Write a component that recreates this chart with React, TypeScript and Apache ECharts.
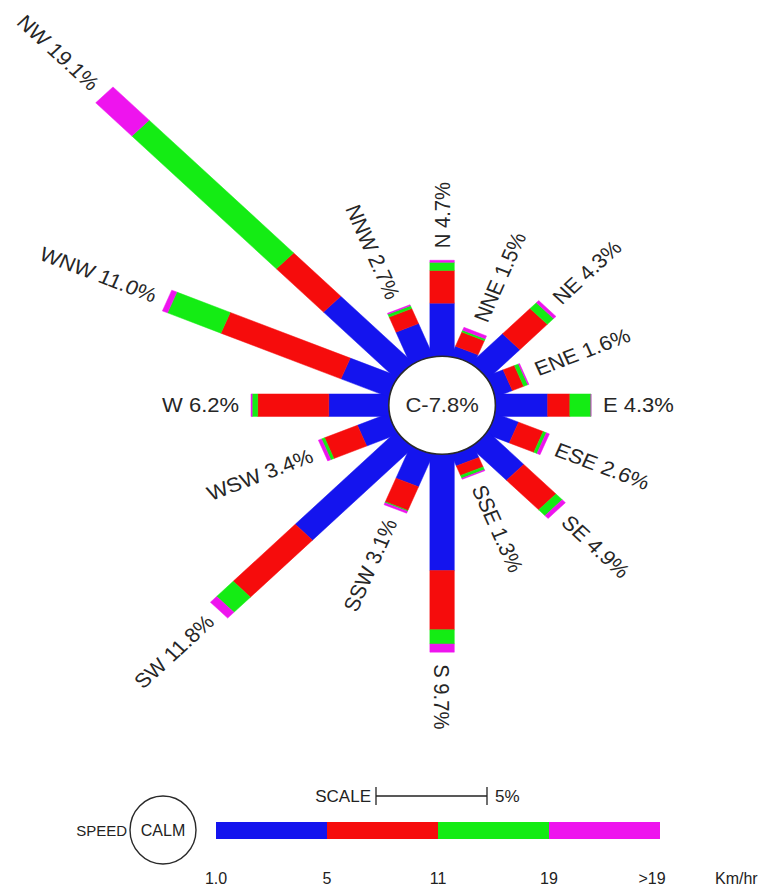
import React, { useEffect, useRef } from "react";
import * as echarts from "echarts";

// ---- data (percent of time) ----
const directions = ["N", "NNE", "NE", "ENE", "E", "ESE", "SE", "SSE", "S", "SSW", "SW", "WSW", "W", "WNW", "NW", "NNW"];
const totals = [4.7, 1.5, 4.3, 1.6, 4.3, 2.6, 4.9, 1.3, 9.7, 3.1, 11.8, 3.4, 6.2, 11.0, 19.1, 2.7];
const speed1to5 = [2.6, 0.5, 2.0, 0.8, 2.35, 1.1, 2.25, 0.6, 5.7, 1.7, 6.4, 1.5, 2.7, 2.3, 4.6, 1.7];
const speed5to11 = [1.6, 0.75, 1.75, 0.55, 1.0, 1.2, 2.05, 0.5, 2.9, 1.25, 3.95, 1.6, 3.2, 5.85, 3.0, 0.8];
const speed11to19 = [0.4, 0.1, 0.4, 0.2, 0.95, 0.15, 0.4, 0.15, 0.7, 0.05, 1.05, 0.15, 0.25, 2.6, 9.2, 0.15];
const speedAbove19 = [0.1, 0.15, 0.15, 0.05, 0, 0.15, 0.2, 0.05, 0.4, 0.1, 0.4, 0.15, 0.05, 0.25, 2.3, 0.05];
const calmPct = 7.8;
const speedTicks = ["1.0", "5", "11", "19", ">19"];
const speedUnit = "Km/hr";
const scalePct = 5;

const COLORS = ["#1414ee", "#f60c0c", "#14ec14", "#ee14ee"];
const RING = 2.4; // calm circle radius in percent units
const HALF_W = 0.55;
const SQUASH = 0.92;
const FONT = "'Liberation Sans', Arial, Helvetica, sans-serif";

export default function App() {
  const ref = useRef<HTMLDivElement>(null);
  useEffect(() => {
    if (!ref.current) return;
    const chart = echarts.init(ref.current, undefined, { renderer: "svg" });
    const classes = [speed1to5, speed5to11, speed11to19, speedAbove19];
    const barData: number[][] = [];
    directions.forEach((_, d) => {
      let cum = 0;
      classes.forEach((arr, c) => {
        const s = cum;
        cum += arr[d];
        barData.push([d, s, cum, c]);
      });
    });
    const labelData = directions.map((_, d) => [d, totals[d]]);

    const option: any = {
      animation: false,
      backgroundColor: "#ffffff",
      grid: { left: 0, right: 0, top: 0, bottom: 0 },
      xAxis: { type: "value", min: -19.9, max: 14.4, show: false },
      yAxis: { type: "value", min: -23.7, max: 19.85, show: false },
      series: [
        {
          type: "custom",
          coordinateSystem: "cartesian2d",
          clip: false,
          z: 2,
          data: barData,
          renderItem: (params: any, api: any) => {
            const d = api.value(0);
            const s = api.value(1);
            const e = api.value(2);
            const c = api.value(3);
            const th = (d * Math.PI) / 8;
            const ux = Math.sin(th), uy = Math.cos(th);
            const px = Math.cos(th), py = -Math.sin(th);
            const r1 = c === 0 ? 0 : RING + s;
            const r2 = RING + e;
            const pts = [
              [r1 * ux + HALF_W * px, r1 * uy + HALF_W * py],
              [r2 * ux + HALF_W * px, r2 * uy + HALF_W * py],
              [r2 * ux - HALF_W * px, r2 * uy - HALF_W * py],
              [r1 * ux - HALF_W * px, r1 * uy - HALF_W * py],
            ].map((p) => api.coord(p));
            return {
              type: "polygon",
              shape: { points: pts },
              style: { fill: COLORS[c], stroke: COLORS[c], lineWidth: 0.5 },
            };
          },
        },
        {
          type: "custom",
          coordinateSystem: "cartesian2d",
          clip: false,
          z: 3,
          data: [[0, 0, calmPct]],
          renderItem: (params: any, api: any) => {
            const c = api.coord([0, 0]);
            const rx = api.size([RING, 0])[0];
            const ry = api.size([0, RING])[1];
            return {
              type: "group",
              children: [
                {
                  type: "ellipse",
                  shape: { cx: c[0], cy: c[1], rx, ry },
                  style: { fill: "#ffffff", stroke: "#2a2a2a", lineWidth: 1.6 },
                },
                {
                  type: "group",
                  x: c[0],
                  y: c[1],
                  scaleY: SQUASH,
                  children: [
                    {
                      type: "text",
                      style: {
                        text: "C-" + api.value(2).toFixed(1) + "%",
                        x: 0,
                        y: 0,
                        fontSize: 22,
                        fontFamily: FONT,
                        fill: "#2a2a2a",
                        align: "center",
                        verticalAlign: "middle",
                      },
                    },
                  ],
                },
              ],
            };
          },
        },
        {
          type: "custom",
          coordinateSystem: "cartesian2d",
          clip: false,
          z: 4,
          data: labelData,
          renderItem: (params: any, api: any) => {
            const d = api.value(0);
            const tot = api.value(1);
            const th = (d * Math.PI) / 8;
            const R = RING + tot;
            const pe = api.coord([R * Math.sin(th), R * Math.cos(th)]);
            const pc = api.coord([0, 0]);
            let vx = pe[0] - pc[0], vy = pe[1] - pc[1];
            const L = Math.hypot(vx, vy);
            vx /= L; vy /= L;
            const gap = 12;
            const ax = pe[0] + vx * gap, ay = pe[1] + vy * gap;
            const wx = vx, wy = vy / SQUASH;
            const outward = d <= 8;
            const rot = outward ? Math.atan2(-wy, wx) : Math.atan2(wy, -wx);
            return {
              type: "group",
              x: ax,
              y: ay,
              scaleY: SQUASH,
              children: [
                {
                  type: "text",
                  rotation: rot,
                  style: {
                    text: directions[d] + " " + tot.toFixed(1) + "%",
                    x: 0,
                    y: 0,
                    fontSize: 22,
                    fontFamily: FONT,
                    fill: "#262626",
                    align: outward ? "left" : "right",
                    verticalAlign: "middle",
                  },
                },
              ],
            };
          },
        },
      ],
      graphic: [
        { type: "ellipse", shape: { cx: 163, cy: 830, rx: 33, ry: 34 }, style: { fill: "#fff", stroke: "#2a2a2a", lineWidth: 1.4 } },
        { type: "text", x: 163, y: 830, style: { text: "CALM", fontSize: 16, fontFamily: FONT, fill: "#222", align: "center", verticalAlign: "middle" } },
        { type: "text", x: 127, y: 830, style: { text: "SPEED", fontSize: 15, fontFamily: FONT, fill: "#222", align: "right", verticalAlign: "middle" } },
        ...COLORS.map((col, i) => ({
          type: "rect",
          shape: { x: 216 + i * 111, y: 822, width: 111, height: 17 },
          style: { fill: col },
        })),
        ...speedTicks.map((t, i) => ({
          type: "text",
          x: 216 + i * 111 - (i === 4 ? 8 : 0),
          y: 878,
          style: { text: t, fontSize: 16, fontFamily: FONT, fill: "#222", align: "center", verticalAlign: "middle" },
        })),
        { type: "text", x: 715, y: 878, style: { text: speedUnit, fontSize: 16, fontFamily: FONT, fill: "#222", align: "left", verticalAlign: "middle" } },
        { type: "text", x: 371, y: 796, style: { text: "SCALE", fontSize: 17, fontFamily: FONT, fill: "#222", align: "right", verticalAlign: "middle" } },
        { type: "line", shape: { x1: 376, y1: 796, x2: 376 + scalePct * 22.2, y2: 796 }, style: { stroke: "#222", lineWidth: 1.3 } },
        { type: "line", shape: { x1: 376, y1: 787, x2: 376, y2: 805 }, style: { stroke: "#222", lineWidth: 1.3 } },
        { type: "line", shape: { x1: 376 + scalePct * 22.2, y1: 787, x2: 376 + scalePct * 22.2, y2: 805 }, style: { stroke: "#222", lineWidth: 1.3 } },
        { type: "text", x: 495, y: 796, style: { text: scalePct + "%", fontSize: 17, fontFamily: FONT, fill: "#222", align: "left", verticalAlign: "middle" } },
      ],
    };
    chart.setOption(option);
    return () => chart.dispose();
  }, []);
  return (
    <div
      ref={ref}
      style={{ position: "absolute", left: 0, top: 0, width: 762, height: 889, background: "#fff" }}
    />
  );
}
